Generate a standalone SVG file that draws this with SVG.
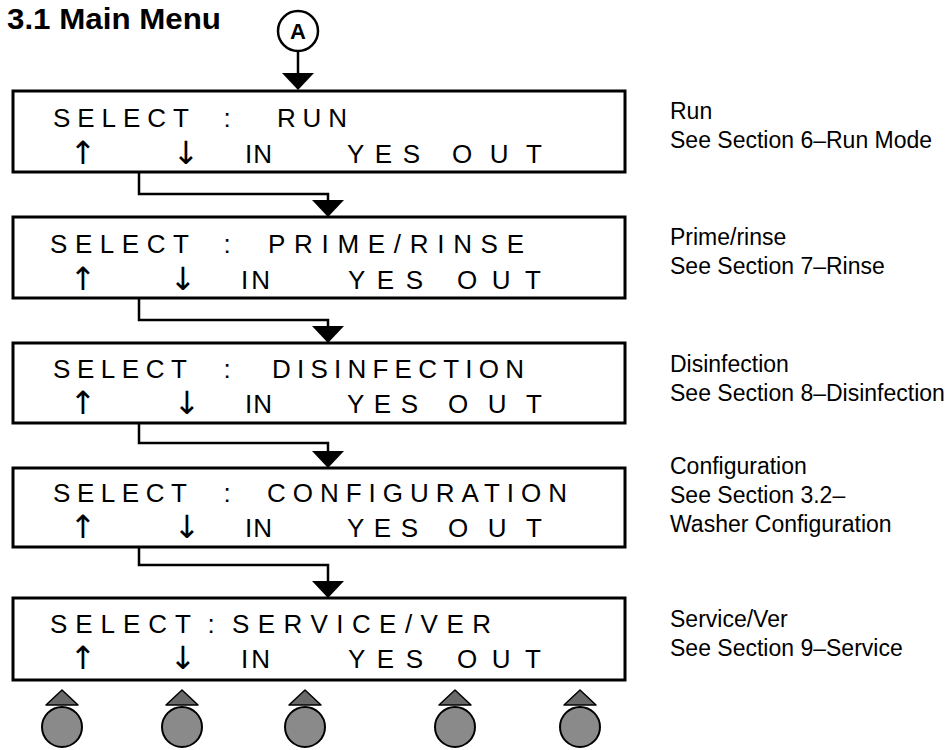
<svg xmlns="http://www.w3.org/2000/svg" width="946" height="750" viewBox="0 0 946 750">
<style>
.box{fill:#fff;stroke:#000;stroke-width:3}
.lcd{font-family:"Liberation Sans",Arial,Helvetica,sans-serif;font-size:26px;fill:#000}
.arr{font-family:"DejaVu Sans","Liberation Sans",sans-serif;font-size:32px;fill:#000;text-anchor:middle}
.mid{text-anchor:middle}
.side{font-family:"Liberation Sans",Arial,Helvetica,sans-serif;font-size:23px;fill:#000}
.conn{fill:none;stroke:#000;stroke-width:2.5}
.head{fill:#000}
.btn{fill:#8a8a8a;stroke:#000;stroke-width:2}
.btri{fill:#6a6a6a;stroke:#000;stroke-width:1.5;stroke-linejoin:round}
</style>

<text x="7" y="29" style="font-family:'Liberation Sans',Arial,sans-serif;font-size:30px;font-weight:bold" textLength="214" lengthAdjust="spacingAndGlyphs">3.1 Main Menu</text>

<g id="nodeA">
<circle cx="298" cy="31" r="20" fill="#fff" stroke="#000" stroke-width="2.5"/>
<text x="298" y="39" class="mid" style="font-family:'Liberation Sans',Arial,sans-serif;font-size:22px;font-weight:bold">A</text>
</g>

<g id="connectors">
<path class="conn" d="M298 51 V74"/>
<path class="head" d="M282 73 H314 L298 90 Z"/>
<path class="conn" d="M139 172 V194 H328 V201"/>
<path class="head" d="M312 200 H344 L328 217 Z"/>
<path class="conn" d="M139 298 V320 H328 V327"/>
<path class="head" d="M312 326 H344 L328 343 Z"/>
<path class="conn" d="M139 423 V443 H328 V452"/>
<path class="head" d="M312 451 H344 L328 468 Z"/>
<path class="conn" d="M139 547 V565 H328 V582"/>
<path class="head" d="M312 581 H344 L328 598 Z"/>
</g>

<g id="run">
<rect class="box" x="13" y="91" width="612" height="81"/>
<text class="lcd" x="53" y="127" textLength="136" lengthAdjust="spacing">SELECT</text>
<text class="lcd mid" x="227" y="127">:</text>
<text class="lcd" x="277" y="127" textLength="70" lengthAdjust="spacing">RUN</text>
<text class="arr" x="83" y="164">↑</text>
<text class="arr" x="186" y="164">↓</text>
<text class="lcd" x="245" y="163" textLength="27" lengthAdjust="spacing">IN</text>
<text class="lcd" x="347" y="163" textLength="73" lengthAdjust="spacing">YES</text>
<text class="lcd" x="452" y="163" textLength="90" lengthAdjust="spacing">OUT</text>
<text class="side" x="670" y="119">Run</text>
<text class="side" x="670" y="148">See Section 6–Run Mode</text>
</g>

<g id="prime">
<rect class="box" x="13" y="217" width="612" height="81"/>
<text class="lcd" x="50" y="253" textLength="139" lengthAdjust="spacing">SELECT</text>
<text class="lcd mid" x="227" y="253">:</text>
<text class="lcd" x="268" y="253" textLength="256" lengthAdjust="spacing">PRIME/RINSE</text>
<text class="arr" x="83" y="290">↑</text>
<text class="arr" x="183" y="290">↓</text>
<text class="lcd" x="241" y="289" textLength="29" lengthAdjust="spacing">IN</text>
<text class="lcd" x="348" y="289" textLength="75" lengthAdjust="spacing">YES</text>
<text class="lcd" x="457" y="289" textLength="84" lengthAdjust="spacing">OUT</text>
<text class="side" x="670" y="245">Prime/rinse</text>
<text class="side" x="670" y="274">See Section 7–Rinse</text>
</g>

<g id="disinfection">
<rect class="box" x="13" y="343" width="612" height="80"/>
<text class="lcd" x="53" y="378" textLength="134" lengthAdjust="spacing">SELECT</text>
<text class="lcd mid" x="227" y="378">:</text>
<text class="lcd" x="272" y="378" textLength="252" lengthAdjust="spacing">DISINFECTION</text>
<text class="arr" x="83" y="414">↑</text>
<text class="arr" x="187" y="414">↓</text>
<text class="lcd" x="245" y="413" textLength="27" lengthAdjust="spacing">IN</text>
<text class="lcd" x="347" y="413" textLength="71" lengthAdjust="spacing">YES</text>
<text class="lcd" x="448" y="413" textLength="94" lengthAdjust="spacing">OUT</text>
<text class="side" x="670" y="372">Disinfection</text>
<text class="side" x="670" y="401">See Section 8–Disinfection</text>
</g>

<g id="configuration">
<rect class="box" x="13" y="468" width="612" height="79"/>
<text class="lcd" x="53" y="502" textLength="134" lengthAdjust="spacing">SELECT</text>
<text class="lcd mid" x="227" y="502">:</text>
<text class="lcd" x="267" y="502" textLength="300" lengthAdjust="spacing">CONFIGURATION</text>
<text class="arr" x="83" y="538">↑</text>
<text class="arr" x="187" y="538">↓</text>
<text class="lcd" x="245" y="537" textLength="27" lengthAdjust="spacing">IN</text>
<text class="lcd" x="347" y="537" textLength="71" lengthAdjust="spacing">YES</text>
<text class="lcd" x="448" y="537" textLength="94" lengthAdjust="spacing">OUT</text>
<text class="side" x="670" y="474">Configuration</text>
<text class="side" x="670" y="503">See Section 3.2–</text>
<text class="side" x="670" y="532">Washer Configuration</text>
</g>

<g id="service">
<rect class="box" x="13" y="598" width="612" height="82"/>
<text class="lcd" x="50" y="633" textLength="141" lengthAdjust="spacing">SELECT</text>
<text class="lcd mid" x="211" y="633">:</text>
<text class="lcd" x="232" y="633" textLength="259" lengthAdjust="spacing">SERVICE/VER</text>
<text class="arr" x="83" y="669">↑</text>
<text class="arr" x="183" y="669">↓</text>
<text class="lcd" x="241" y="668" textLength="29" lengthAdjust="spacing">IN</text>
<text class="lcd" x="348" y="668" textLength="75" lengthAdjust="spacing">YES</text>
<text class="lcd" x="457" y="668" textLength="84" lengthAdjust="spacing">OUT</text>
<text class="side" x="670" y="627">Service/Ver</text>
<text class="side" x="670" y="656">See Section 9–Service</text>
</g>

<g id="button1"><path class="btri" d="M46 705 H78 L62 690 Z"/><circle class="btn" cx="62" cy="727" r="20"/></g>
<g id="button2"><path class="btri" d="M166 705 H198 L182 690 Z"/><circle class="btn" cx="182" cy="727" r="20"/></g>
<g id="button3"><path class="btri" d="M289 705 H321 L305 690 Z"/><circle class="btn" cx="305" cy="727" r="20"/></g>
<g id="button4"><path class="btri" d="M439 705 H471 L455 690 Z"/><circle class="btn" cx="455" cy="727" r="20"/></g>
<g id="button5"><path class="btri" d="M564 705 H596 L580 690 Z"/><circle class="btn" cx="580" cy="727" r="20"/></g>
</svg>
